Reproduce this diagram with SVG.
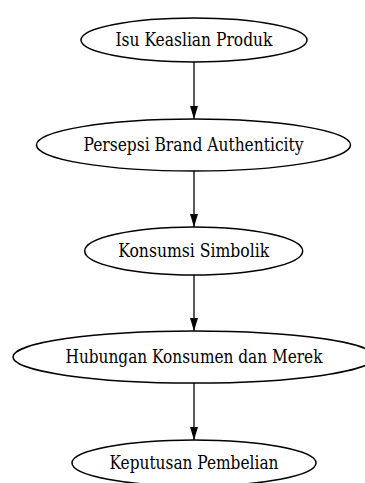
<svg xmlns="http://www.w3.org/2000/svg" width="365" height="483" viewBox="0 0 365 483">
<defs>
<style>
.n ellipse{fill:none;stroke:#000;stroke-width:1.5}
.n text{font-family:"DejaVu Serif Condensed","DejaVu Serif",serif;font-stretch:condensed;font-size:18px;fill:#000;text-anchor:middle}
.e{stroke:#000;stroke-width:1.3;fill:none}
</style>
<marker id="ah" markerWidth="13" markerHeight="8" viewBox="0 0 13 8" refX="13" refY="4" orient="auto" markerUnits="userSpaceOnUse">
<path d="M0,0 L13,4 L0,8 Z" fill="#000"/>
</marker>
</defs>
<g id="edges">
<path class="e" d="M194,62 V119" marker-end="url(#ah)"/>
<path class="e" d="M194,171 V227" marker-end="url(#ah)"/>
<path class="e" d="M194,275 V331" marker-end="url(#ah)"/>
<path class="e" d="M194,383 V440" marker-end="url(#ah)"/>
</g>
<g id="n1" class="n"><ellipse cx="194" cy="40" rx="113" ry="22"/><text x="194" y="46" textLength="157" lengthAdjust="spacingAndGlyphs">Isu Keaslian Produk</text></g>
<g id="n2" class="n"><ellipse cx="193.5" cy="145" rx="157" ry="26"/><text x="193.5" y="151" textLength="220" lengthAdjust="spacingAndGlyphs">Persepsi Brand Authenticity</text></g>
<g id="n3" class="n"><ellipse cx="193.7" cy="251" rx="109" ry="24"/><text x="193.7" y="257" textLength="151" lengthAdjust="spacingAndGlyphs">Konsumsi Simbolik</text></g>
<g id="n4" class="n"><ellipse cx="194" cy="357" rx="181" ry="26"/><text x="194" y="363" textLength="257" lengthAdjust="spacingAndGlyphs">Hubungan Konsumen dan Merek</text></g>
<g id="n5" class="n"><ellipse cx="194" cy="463" rx="122" ry="23"/><text x="194" y="469" textLength="169" lengthAdjust="spacingAndGlyphs">Keputusan Pembelian</text></g>
</svg>
